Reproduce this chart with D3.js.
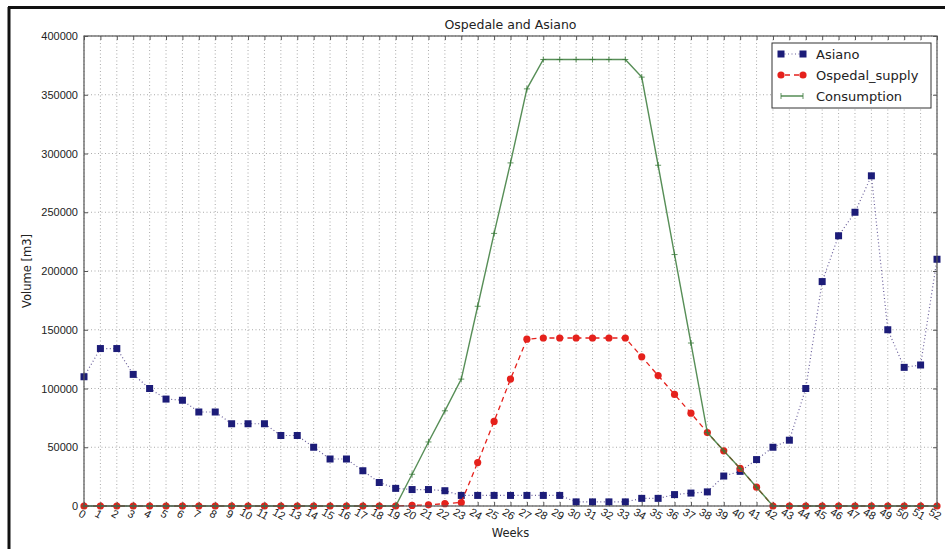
<!DOCTYPE html>
<html><head><meta charset="utf-8">
<script src="https://cdn.jsdelivr.net/npm/d3@7"></script>
<style>body{margin:0;background:#fff}svg{display:block;font-family:"DejaVu Sans",sans-serif}</style>
</head><body><svg id="c" width="945" height="549"></svg>
<script>
const weeks = d3.range(0, 53);
const asiano = [110000,134000,134000,112000,100000,91000,90000,80000,80000,70000,70000,70000,60000,60000,50000,40000,40000,30000,20000,15000,14000,14000,13000,9000,9000,9000,9000,9000,9000,9000,3500,3500,3500,3500,6500,6500,9700,11000,12000,25500,29500,39500,50000,56000,100000,191000,230000,250000,281000,150000,118000,120000,210000];
const ospedal = [0,0,0,0,0,0,0,0,0,0,0,0,0,0,0,0,0,0,0,0,500,1000,2000,3000,37000,72000,108000,142000,143000,143000,143000,143000,143000,143000,127000,111000,95000,79000,62500,47000,32000,16000,0,0,0,0,0,0,0,0,0,0,0];
const consumption = [0,0,0,0,0,0,0,0,0,0,0,0,0,0,0,0,0,0,0,0,27000,54500,81000,108000,170000,232000,292000,355000,380000,380000,380000,380000,380000,380000,365000,290000,214000,138700,62500,47000,32000,16000,0,0,0,0,0,0,0,0,0,0,0];
const yTicks = [0,50000,100000,150000,200000,250000,300000,350000,400000];
const seriesNames = ["Asiano","Ospedal_supply","Consumption"];

const svg = d3.select("#c");
const L=84, R=937, T=36, B=506;
const x = d3.scaleLinear().domain([0,52]).range([L,R]);
const y = d3.scaleLinear().domain([0,400000]).range([B,T]);

// outer figure border (left and top)
svg.append("line").attr("x1",9).attr("x2",9).attr("y1",7).attr("y2",549).attr("stroke","#111").attr("stroke-width",3);
svg.append("line").attr("x1",8).attr("x2",945).attr("y1",7.5).attr("y2",7.5).attr("stroke","#111").attr("stroke-width",3);

const g = svg.append("g");
// grid
g.selectAll(".gx").data(weeks).join("line").attr("x1",d=>x(d)).attr("x2",d=>x(d)).attr("y1",T).attr("y2",B)
 .attr("stroke","#aaa").attr("stroke-width",1).attr("stroke-dasharray","1,2.5");
g.selectAll(".gy").data(yTicks).join("line").attr("y1",d=>y(d)).attr("y2",d=>y(d)).attr("x1",L).attr("x2",R)
 .attr("stroke","#aaa").attr("stroke-width",1).attr("stroke-dasharray","1,2.5");

// axes (ticks inside)
const ax = g.append("g").attr("transform",`translate(0,${B})`).call(d3.axisBottom(x).tickValues(weeks).tickSize(-4).tickPadding(6).tickFormat(d3.format("d")));
ax.select(".domain").remove();
ax.selectAll("line").attr("stroke","#555");
ax.selectAll("text").attr("font-size",11).attr("fill","#222").attr("text-anchor","middle")
  .attr("transform","rotate(30) translate(2,-2)").attr("dy","0.9em").attr("y",4);
const axTop = g.append("g").attr("transform",`translate(0,${T})`).call(d3.axisTop(x).tickValues(weeks).tickSize(-4).tickFormat(""));
axTop.select(".domain").remove(); axTop.selectAll("line").attr("stroke","#555");
const ay = g.append("g").attr("transform",`translate(${L},0)`).call(d3.axisLeft(y).tickValues(yTicks).tickSize(-4).tickPadding(6).tickFormat(d3.format("d")));
ay.select(".domain").remove();
ay.selectAll("line").attr("stroke","#555");
ay.selectAll("text").attr("font-size",11).attr("fill","#222");
const ayR = g.append("g").attr("transform",`translate(${R},0)`).call(d3.axisRight(y).tickValues(yTicks).tickSize(-4).tickFormat(""));
ayR.select(".domain").remove(); ayR.selectAll("line").attr("stroke","#555");

const line = d3.line().x((d,i)=>x(weeks[i])).y(d=>y(d));
const cA="#1c1c78", cO="#e5211c", cC="#3a7a3a";

// Asiano
g.append("path").attr("d",line(asiano)).attr("fill","none").attr("stroke","#6a5f9a").attr("stroke-width",1.2).attr("stroke-dasharray","1,2.5");
g.selectAll(".sa").data(asiano).join("rect").attr("x",(d,i)=>x(weeks[i])-3.5).attr("y",d=>y(d)-3.5).attr("width",7).attr("height",7).attr("fill",cA);
// Ospedal
g.append("path").attr("d",line(ospedal)).attr("fill","none").attr("stroke",cO).attr("stroke-width",1.3).attr("stroke-dasharray","5,4");
g.selectAll(".co").data(ospedal).join("circle").attr("cx",(d,i)=>x(weeks[i])).attr("cy",d=>y(d)).attr("r",3.6).attr("fill",cO);
// Consumption
g.append("path").attr("d",line(consumption)).attr("fill","none").attr("stroke",cC).attr("stroke-width",1.4).attr("stroke-opacity",0.85);
g.selectAll(".pc").data(consumption).join("path").attr("d",(d,i)=>{const px=x(weeks[i]),py=y(d);return `M${px-3},${py}H${px+3}M${px},${py-3}V${py+3}`;})
 .attr("stroke",cC).attr("stroke-width",0.8);

// frame
g.append("rect").attr("x",L).attr("y",T).attr("width",R-L).attr("height",B-T).attr("fill","none").attr("stroke","#555").attr("stroke-width",1.2);

// titles
svg.append("text").attr("x",(L+R)/2).attr("y",29).attr("text-anchor","middle").attr("font-size",12.5).attr("fill","#222").text("Ospedale and Asiano");
svg.append("text").attr("x",(L+R)/2).attr("y",537).attr("text-anchor","middle").attr("font-size",11.5).attr("fill","#222").text("Weeks");
svg.append("text").attr("transform",`translate(31,${(T+B)/2}) rotate(-90)`).attr("text-anchor","middle").attr("font-size",11.5).attr("fill","#222").text("Volume [m3]");

// legend
const lg = svg.append("g").attr("transform","translate(772,43)");
lg.append("rect").attr("width",159).attr("height",65).attr("fill","#fff").attr("stroke","#333").attr("stroke-width",1);
seriesNames.forEach((n,i)=>{
  const yy = 11 + i*21;
  const e = lg.append("g").attr("transform",`translate(0,${yy})`);
  if(i===0){
    e.append("line").attr("x1",9).attr("x2",31).attr("stroke","#6a5f9a").attr("stroke-dasharray","1,2.5").attr("stroke-width",1.2);
    [9,31].forEach(px=>e.append("rect").attr("x",px-3.5).attr("y",-3.5).attr("width",7).attr("height",7).attr("fill",cA));
  } else if(i===1){
    e.append("line").attr("x1",9).attr("x2",31).attr("stroke",cO).attr("stroke-dasharray","5,4").attr("stroke-dashoffset",-4).attr("stroke-width",1.3);
    [9,31].forEach(px=>e.append("circle").attr("cx",px).attr("r",3.6).attr("fill",cO));
  } else {
    e.append("line").attr("x1",9).attr("x2",31).attr("stroke",cC).attr("stroke-width",1.3);
    [9,31].forEach(px=>e.append("path").attr("d",`M${px},-3V3`).attr("stroke",cC).attr("stroke-width",0.8));
  }
  e.append("text").attr("x",44).attr("y",0).attr("dy","0.35em").attr("font-size",13).attr("fill","#222").text(n);
});
</script></body></html>
